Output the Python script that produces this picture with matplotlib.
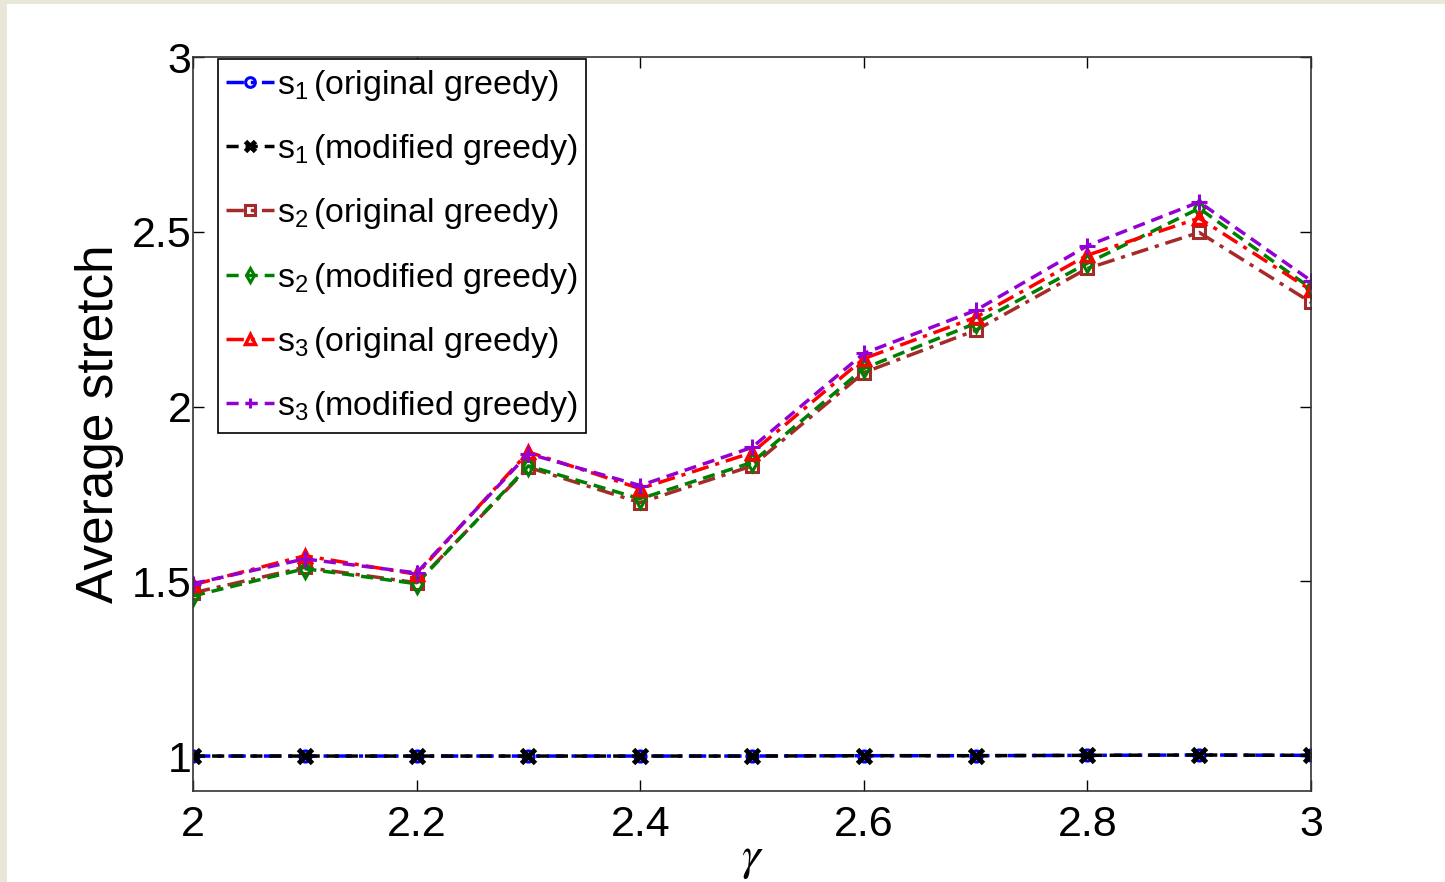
import matplotlib.pyplot as plt
from matplotlib.patches import Rectangle

plt.rcParams['font.family'] = ['Liberation Sans', 'DejaVu Sans']
plt.rcParams['mathtext.fontset'] = 'custom'
plt.rcParams['mathtext.rm'] = 'Liberation Sans'
plt.rcParams['mathtext.it'] = 'Liberation Sans:italic'

gamma = [2.0, 2.1, 2.2, 2.3, 2.4, 2.5, 2.6, 2.7, 2.8, 2.9, 3.0]

s1_orig = [1.0, 1.0, 1.0, 1.0, 1.0, 1.0, 1.001, 1.001, 1.002, 1.003, 1.002]
s1_mod = [1.0, 1.0, 1.0, 1.0, 1.0, 1.0, 1.001, 1.001, 1.002, 1.003, 1.002]
s2_orig = [1.467, 1.540, 1.496, 1.826, 1.725, 1.830, 2.097, 2.218, 2.395, 2.498, 2.298]
s2_mod = [1.458, 1.536, 1.493, 1.830, 1.736, 1.840, 2.109, 2.238, 2.410, 2.567, 2.338]
s3_orig = [1.490, 1.573, 1.520, 1.870, 1.765, 1.868, 2.137, 2.255, 2.433, 2.539, 2.333]
s3_mod = [1.493, 1.564, 1.524, 1.865, 1.774, 1.883, 2.152, 2.275, 2.460, 2.585, 2.360]

labels = [r'$\mathrm{s}_{\mathrm{1}}\,$(original greedy)', r'$\mathrm{s}_{\mathrm{1}}\,$(modified greedy)',
          r'$\mathrm{s}_{\mathrm{2}}\,$(original greedy)', r'$\mathrm{s}_{\mathrm{2}}\,$(modified greedy)',
          r'$\mathrm{s}_{\mathrm{3}}\,$(original greedy)', r'$\mathrm{s}_{\mathrm{3}}\,$(modified greedy)']

fig = plt.figure(figsize=(14.45, 8.82), dpi=100)
fig.patch.set_facecolor('#e9e8d8')
fig.patches.append(Rectangle((7 / 1445, 0), 1, 1 - 4 / 882, transform=fig.transFigure,
                             facecolor='white', edgecolor='none', zorder=-1))
ax = fig.add_axes([193 / 1445, 1 - 791 / 882, (1311 - 193) / 1445, (791 - 57) / 882])

dashdot = (0, (5, 2, 1.2, 2))
dashed = (0, (3.5, 2))
ax.plot(gamma, s1_orig, linestyle=dashdot, color='blue', marker='o', ms=8, mfc='none', mew=2.2, lw=2.5, label=labels[0])
ax.plot(gamma, s1_mod, linestyle=dashed, color='black', marker='x', ms=10, mew=3.5, lw=2.5, label=labels[1])
ax.plot(gamma, s2_orig, linestyle=dashdot, color='#a52a2a', marker='s', ms=8, mfc='none', mew=2.2, lw=2.5, label=labels[2])
ax.plot(gamma, s2_mod, linestyle=dashed, color='green', marker='d', ms=9, mfc='none', mew=2.2, lw=2.5, label=labels[3])
ax.plot(gamma, s3_orig, linestyle=dashdot, color='red', marker='^', ms=9, mfc='none', mew=2.5, lw=2.5, label=labels[4])
ax.plot(gamma, s3_mod, linestyle=dashed, color='#9400d3', marker='+', ms=12, mew=2.2, lw=2.5, label=labels[5])

ax.set_xlim(2, 3)
ax.set_ylim(0.9, 3)
ax.set_xticks([2, 2.2, 2.4, 2.6, 2.8, 3])
ax.set_xticklabels(['2', '2.2', '2.4', '2.6', '2.8', '3'])
ax.set_yticks([1, 1.5, 2, 2.5, 3])
ax.set_yticklabels(['1', '1.5', '2', '2.5', '3'])
ax.tick_params(direction='in', top=True, right=True, length=8, width=1, labelsize=31)
ax.tick_params(axis='y', pad=1)
ax.tick_params(axis='x', pad=10)
for sp in ax.spines.values():
    sp.set_linewidth(1.2)
    sp.set_color('#333333')

ax.set_ylabel('Average stretch', fontsize=37, labelpad=6)
ax.set_xlabel(r'$\gamma$', fontsize=34, math_fontfamily='stix', labelpad=-6)

leg = ax.legend(loc='upper left', bbox_to_anchor=(0.022, 0.997), fontsize=24.5, handlelength=1.4,
                handletextpad=0.1, borderpad=0.25, labelspacing=0.86, borderaxespad=0,
                fancybox=False, framealpha=1, edgecolor='black')
leg.get_frame().set_linewidth(1.2)
for h in leg.legend_handles:
    h.set_markersize(7)
    h.set_linewidth(2.5)

fig.savefig('out.png', dpi=100, facecolor=fig.get_facecolor())
